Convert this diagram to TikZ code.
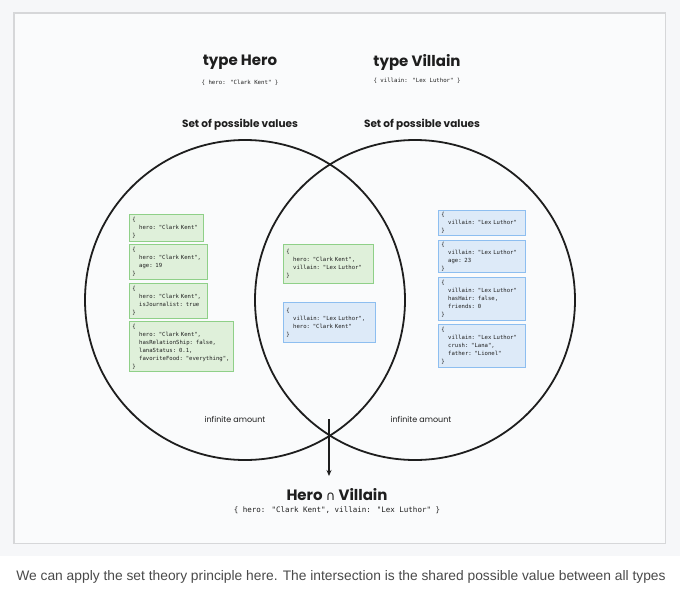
\documentclass[tikz,border=0pt]{standalone}
\usepackage{fontspec}
\setmainfont{Poppins}
\newfontfamily\monof{DejaVu Sans Mono}
\newfontfamily\capf{Liberation Sans}
\newfontfamily\symf{DejaVu Sans}
\usetikzlibrary{arrows.meta}
\definecolor{bgout}{HTML}{F6F7F9}
\definecolor{bgin}{HTML}{FAFBFC}
\definecolor{frameline}{HTML}{D6D7D9}
\definecolor{ink}{HTML}{1E1E1E}
\definecolor{gfill}{HTML}{DFF0DA}
\definecolor{gline}{HTML}{8FD088}
\definecolor{bfill}{HTML}{DDEAF8}
\definecolor{bline}{HTML}{8DBEF0}
\definecolor{captext}{HTML}{4A4A4A}
\newcommand\ind{\hspace*{1.204em}}
\newcommand\J[1]{\mbox{#1}}
\tikzset{
  jbox/.style={draw, line width=0.8pt, align=left, inner xsep=3pt, inner ysep=0pt,
    font=\monof\fontsize{5.6}{8}\selectfont, text=ink, anchor=north west},
  gbox/.style={jbox, fill=gfill, draw=gline},
  bbox/.style={jbox, fill=bfill, draw=bline},
  title/.style={font=\bfseries\fontsize{15}{18}\selectfont, text=ink},
  sub/.style={font=\monof\fontsize{5.7}{7}\selectfont, text=ink},
  setlbl/.style={font=\bfseries\fontsize{10.5}{12}\selectfont, text=ink},
  inflbl/.style={font=\fontsize{8}{10}\selectfont, text=ink},
  setcirc/.style={circle, draw=ink, line width=1.8pt, minimum size=320pt, inner sep=0pt},
}
\begin{document}
\begin{tikzpicture}[x=1pt,y=-1pt]
\useasboundingbox (0,0) rectangle (680,589);
\fill[white] (0,0) rectangle (680,589);
\fill[bgout] (0,0) rectangle (680,556);
\filldraw[fill=bgin, draw=frameline, line width=1.6pt] (14,13) rectangle (665.5,543.5);

% titles
\node[title] (th) at (240,62) {type Hero};
\node[sub] (thv) at (240,83) {\{ hero: "Clark Kent" \}};
\node[title] (tv) at (417,62) {type Villain};
\node[sub] (tvv) at (417,81) {\{ villain: "Lex Luthor" \}};
\node[setlbl] (s1) at (240,125) {Set of possible values};
\node[setlbl] (s2) at (422,125) {Set of possible values};

% circles
\node[setcirc] (heroset) at (245,300) {};
\node[setcirc] (villset) at (415,300) {};

% hero boxes
\node[gbox, text width=68pt, minimum height=27pt] (h1) at (129,214)
  {\J{\{}\\\J{\ind hero: "Clark Kent"}\\\J{\}}};
\node[gbox, text width=72pt, minimum height=35pt] (h2) at (129,244)
  {\J{\{}\\\J{\ind hero: "Clark Kent",}\\\J{\ind age: 19}\\\J{\}}};
\node[gbox, text width=72pt, minimum height=35pt] (h3) at (129,283)
  {\J{\{}\\\J{\ind hero: "Clark Kent",}\\\J{\ind isJournalist: true}\\\J{\}}};
\node[gbox, text width=98pt, minimum height=50pt] (h4) at (129,321)
  {\J{\{}\\\J{\ind hero: "Clark Kent",}\\\J{\ind hasRelationShip: false,}\\\J{\ind lanaStatus: 0.1,}\\\J{\ind favoriteFood: "everything",}\\\J{\}}};

% intersection boxes
\node[gbox, text width=84pt, minimum height=39pt] (m1) at (283,244)
  {\J{\{}\\\J{\ind hero: "Clark Kent",}\\\J{\ind villain: "Lex Luthor"}\\\J{\}}};
\node[bbox, text width=86pt, minimum height=40pt] (m2) at (283,302)
  {\J{\{}\\\J{\ind villain: "Lex Luthor",}\\\J{\ind hero: "Clark Kent"}\\\J{\}}};

% villain boxes
\node[bbox, text width=81pt, minimum height=25pt] (v1) at (438,210)
  {\J{\{}\\\J{\ind villain: "Lex Luthor"}\\\J{\}}};
\node[bbox, text width=81pt, minimum height=32pt] (v2) at (438,240)
  {\J{\{}\\\J{\ind villain: "Lex Luthor"}\\\J{\ind age: 23}\\\J{\}}};
\node[bbox, text width=81pt, minimum height=43pt] (v3) at (438,277)
  {\J{\{}\\\J{\ind villain: "Lex Luthor"}\\\J{\ind hasHair: false,}\\\J{\ind friends: 0}\\\J{\}}};
\node[bbox, text width=81pt, minimum height=43pt] (v4) at (438,324)
  {\J{\{}\\\J{\ind villain: "Lex Luthor"}\\\J{\ind crush: "Lana",}\\\J{\ind father: "Lionel"}\\\J{\}}};

% infinite labels
\node[inflbl] (i1) at (235,419) {infinite amount};
\node[inflbl] (i2) at (421,419) {infinite amount};

% arrow
\coordinate (as) at (329,419);
\coordinate (ae) at (329,476);
\draw[ink, line width=1.1pt, -{Stealth[length=6pt,width=5pt]}] (as) -- (ae);

% result
\node[title] (res) at (337,495) {Hero {\symf\mdseries\fontsize{13}{14}\selectfont ∩} Villain};
\node[font=\monof\fontsize{7.5}{9}\selectfont, text=ink] (resv) at (337,510)
  {\{ hero: "Clark Kent", villain: "Lex Luthor" \}};

% caption
\node[font=\capf\fontsize{13.8}{16}\selectfont, text=captext] (cap) at (341,577)
  {We can apply the set theory principle here. The intersection is the shared possible value between all types};
\end{tikzpicture}
\end{document}
